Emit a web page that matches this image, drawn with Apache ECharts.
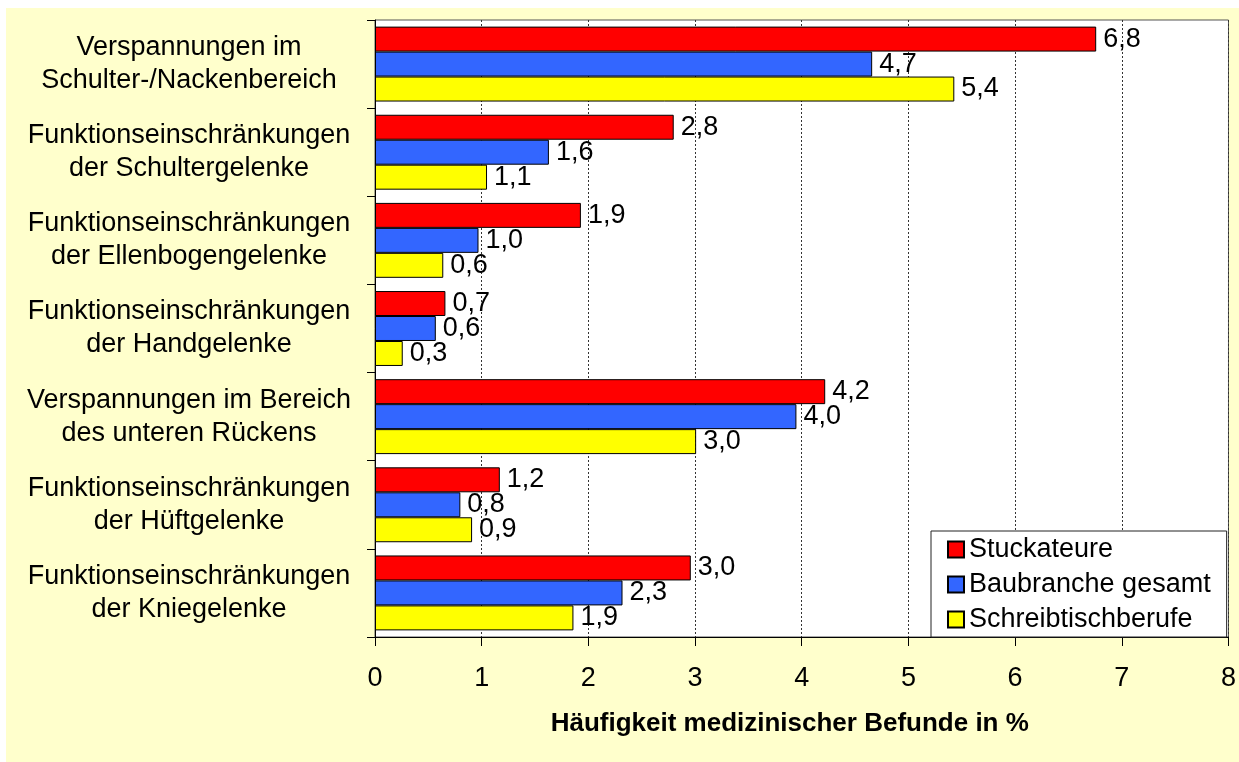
<!DOCTYPE html>
<html>
<head>
<meta charset="utf-8">
<script src="https://cdn.jsdelivr.net/npm/echarts@6/dist/echarts.min.js"></script>
<style>
html,body{margin:0;padding:0;background:#fff;}
#c{width:1239px;height:762px;}
</style>
</head>
<body>
<div id="c"></div>
<script>
const categories = [
  "Verspannungen im\nSchulter-/Nackenbereich",
  "Funktionseinschränkungen\nder Schultergelenke",
  "Funktionseinschränkungen\nder Ellenbogengelenke",
  "Funktionseinschränkungen\nder Handgelenke",
  "Verspannungen im Bereich\ndes unteren Rückens",
  "Funktionseinschränkungen\nder Hüftgelenke",
  "Funktionseinschränkungen\nder Kniegelenke"
];
const seriesNames = ["Stuckateure", "Baubranche gesamt", "Schreibtischberufe"];
const stuckateure = [6.76, 2.80, 1.93, 0.66, 4.22, 1.17, 2.96];
const baubranche = [4.66, 1.63, 0.97, 0.57, 3.95, 0.80, 2.32];
const schreibtisch = [5.43, 1.05, 0.64, 0.26, 3.01, 0.91, 1.86];
const xTicks = [0, 1, 2, 3, 4, 5, 6, 7, 8];
const xAxisTitle = "Häufigkeit medizinischer Befunde in %";
const colors = ["#FF0000", "#3366FF", "#FFFF00"];

const FONT = "'Liberation Sans', Arial, sans-serif";
const chart = echarts.init(document.getElementById('c'), null, {renderer: 'canvas'});

function mkSeries(name, data, color) {
  return {
    name: name,
    type: 'bar',
    data: data,
    barGap: '0%',
    barCategoryGap: '15%',
    itemStyle: {color: color, borderColor: '#000', borderWidth: 1},
    label: {
      show: true,
      position: 'right',
      distance: 7,
      color: '#000',
      fontSize: 27,
      fontFamily: FONT,
      formatter: p => p.value.toFixed(1).replace('.', ',')
    },
    emphasis: {disabled: true},
    animation: false
  };
}

chart.setOption({
  backgroundColor: '#fff',
  animation: false,
  graphic: {
    elements: [{
      type: 'rect',
      z: -100,
      silent: true,
      shape: {x: 6, y: 8, width: 1233, height: 754},
      style: {fill: '#FFFFCC'}
    }]
  },
  grid: {
    left: 375, top: 20, width: 857.6, height: 617,
    show: true, backgroundColor: '#fff', borderColor: '#555', borderWidth: 1
  },
  legend: {
    orient: 'vertical',
    left: 931, top: 531,
    backgroundColor: '#fff',
    borderColor: '#222',
    borderWidth: 1,
    borderRadius: 0,
    padding: [5, 16, 4, 16],
    itemGap: 8,
    itemWidth: 16,
    itemHeight: 16,
    itemTextGap: 7,
    icon: 'rect',
    textStyle: {fontSize: 27, fontFamily: FONT, color: '#000'},
    data: seriesNames
  },
  xAxis: {
    type: 'value',
    min: 0, max: 8, interval: 1,
    axisLine: {show: true, lineStyle: {color: '#000', width: 1}},
    axisTick: {show: true, length: 9, lineStyle: {color: '#000'}},
    axisLabel: {
      fontSize: 27, fontFamily: FONT, color: '#000', margin: 28,
      formatter: v => xTicks.indexOf(v) >= 0 ? String(v) : ''
    },
    splitLine: {show: true, lineStyle: {color: '#333', type: [2, 2], width: 1}},
    name: xAxisTitle,
    nameLocation: 'middle',
    nameGap: 74,
    nameTextStyle: {fontSize: 26, fontWeight: 'bold', fontFamily: FONT, color: '#000', padding: [0, 24, 0, 0]}
  },
  yAxis: {
    type: 'category',
    data: categories,
    inverse: true,
    axisLine: {show: true, lineStyle: {color: '#000', width: 1}},
    axisTick: {show: true, length: 8, lineStyle: {color: '#000'}},
    axisLabel: {
      fontSize: 27, fontFamily: FONT, color: '#000',
      align: 'center', margin: 186, lineHeight: 33
    },
    splitLine: {show: false}
  },
  series: [
    mkSeries(seriesNames[0], stuckateure, colors[0]),
    mkSeries(seriesNames[1], baubranche, colors[1]),
    mkSeries(seriesNames[2], schreibtisch, colors[2])
  ]
});
</script>
</body>
</html>
